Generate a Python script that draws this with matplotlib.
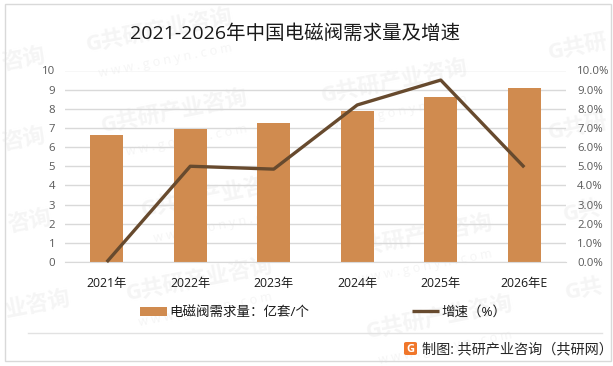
import matplotlib
matplotlib.use('Agg')
import matplotlib.pyplot as plt
from matplotlib.patches import Rectangle, FancyBboxPatch

plt.rcParams['font.family'] = ['Open Sans', 'Noto Sans CJK SC', 'DejaVu Sans']

# data
years = ['2021年', '2022年', '2023年', '2024年', '2025年', '2026年E']
demand = [6.63, 6.95, 7.26, 7.88, 8.60, 9.08]
growth = [0.0, 5.0, 4.85, 8.2, 9.5, 4.95]
left_ticks = list(range(0, 11))
right_labels = [f'{i}.0%' for i in range(0, 11)]

W, H = 613, 366
fig = plt.figure(figsize=(W / 100, H / 100), dpi=100, facecolor='white')

def fx(px):
    return px / W

def fy(px):
    return 1 - px / H

# watermarks, behind everything
full_marks = [(160, 31), (175, 112), (395, 82), (215, 196), (420, 237), (200, 280), (440, 318)]
for mx, my in full_marks:
    fig.text(fx(mx), fy(my), 'G共研产业咨询', fontsize=16, fontweight='bold', color='#f5f5f5',
             rotation=11, ha='center', va='center', zorder=-5)
    fig.text(fx(mx + 5), fy(my + 30), 'w w w . g o n y n . c o m', fontsize=9, color='#f5f5f5',
             rotation=11, ha='center', va='center', zorder=-5)
edge_marks = [(24, 60, '咨询'), (24, 140, '咨询'), (30, 222, '咨询'), (38, 305, '业咨询'),
              (578, 48, 'G共研'), (578, 128, 'G共研'), (582, 212, 'G共'), (584, 290, 'G共')]
for mx, my, txt in edge_marks:
    fig.text(fx(mx), fy(my), txt, fontsize=16, fontweight='bold', color='#f5f5f5',
             rotation=11, ha='center', va='center', zorder=-5)

# outer border
fig.add_artist(Rectangle((fx(4.5), fy(361)), fx(606), 357 / H, transform=fig.transFigure,
                         fill=False, edgecolor='#d9d9d9', linewidth=1))

ax = fig.add_axes([fx(65), fy(262), fx(501), 191.5 / H])
ax.patch.set_alpha(0)
x = list(range(len(years)))
bars = ax.bar(x, demand, width=0.4, color='#d08b4f', zorder=2, label='电磁阀需求量：亿套/个')
ax.set_xlim(-0.5, 5.5)
ax.set_ylim(0, 10)
ax.set_yticks(left_ticks)
ax.set_xticks(x)
ax.set_xticklabels(years, fontsize=8.8, color='#1a1a1a')
ax.tick_params(axis='x', length=0, pad=11)
ax.tick_params(axis='y', length=0, pad=7, labelsize=8.2, labelcolor='#595959')
ax.grid(axis='y', color='#d9d9d9', linewidth=1, zorder=0)
ax.set_axisbelow(True)
for s in ['top', 'left', 'right']:
    ax.spines[s].set_visible(False)
ax.spines['bottom'].set_color('#d9d9d9')

ax2 = ax.twinx()
line, = ax2.plot(x, growth, color='#674a2e', linewidth=2.4, zorder=3, label='增速（%）',
                 solid_capstyle='butt', clip_on=False)
ax2.set_ylim(0, 10)
ax2.set_yticks(left_ticks)
ax2.set_yticklabels(right_labels)
ax2.tick_params(axis='y', length=0, pad=8, labelsize=8.2, labelcolor='#595959')
for s in ax2.spines.values():
    s.set_visible(False)

fig.text(fx(295), fy(34), '2021-2026年中国电磁阀需求量及增速', fontsize=14, color='#1a1a1a',
         ha='center', va='center')

fig.legend(handles=[bars, line], ncol=2, loc='center', bbox_to_anchor=(fx(323), fy(312.5)),
           frameon=False, fontsize=9.7, labelcolor='#1a1a1a', handlelength=2.0, handleheight=0.6,
           handletextpad=0.2, columnspacing=7.6, borderpad=0, borderaxespad=0)

# footer
fig.add_artist(plt.Line2D([fx(28), fx(602)], [fy(332.5), fy(332.5)], color='#e2e2e2', linewidth=1))
fig.add_artist(FancyBboxPatch((fx(404), fy(355)), fx(13), 13 / H, transform=fig.transFigure,
                              boxstyle='round,pad=0,rounding_size=0.004', facecolor='#f0762a',
                              edgecolor='none'))
fig.text(fx(410.5), fy(349), 'G', fontsize=8, fontweight='bold', color='white', ha='center', va='center')
fig.text(fx(422), fy(349.5), '制图: 共研产业咨询（共研网）', fontsize=10.2, color='#262626', ha='left', va='center')

fig.savefig('out.png', dpi=100)
